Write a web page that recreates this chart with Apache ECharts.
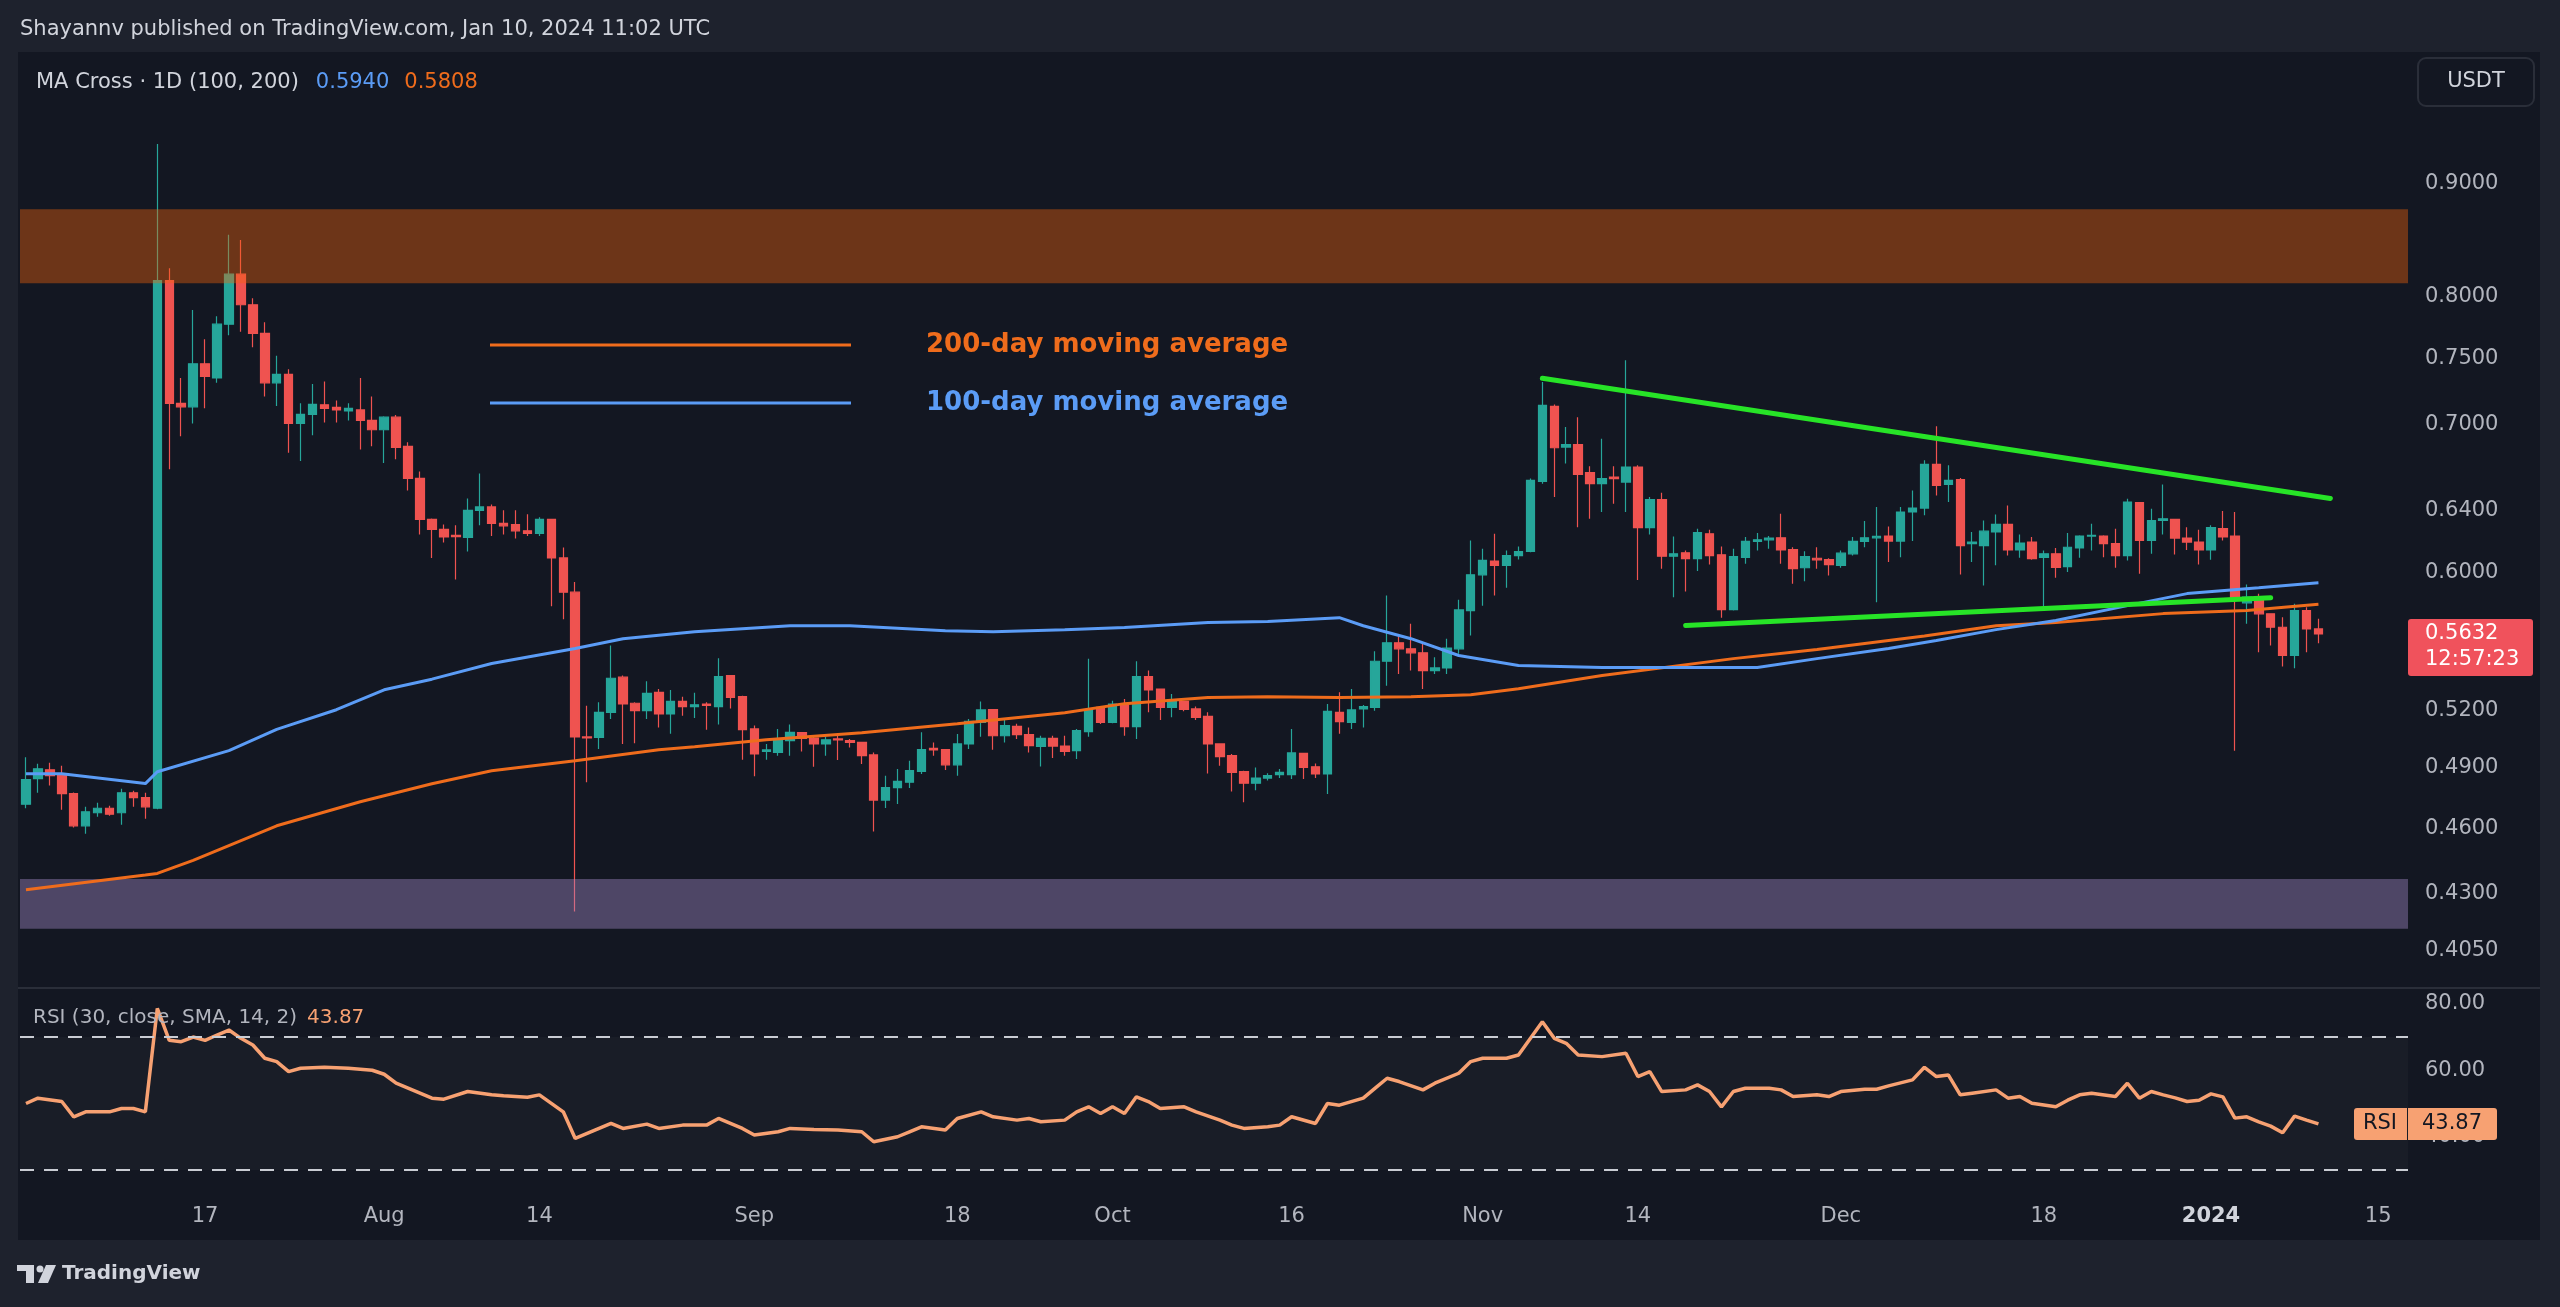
<!DOCTYPE html>
<html>
<head>
<meta charset="utf-8">
<title>XRPUSDT MA Cross</title>
<script src="https://cdn.jsdelivr.net/npm/echarts@6/dist/echarts.min.js"></script>
<style>
html,body{margin:0;padding:0;background:#1e222d;overflow:hidden;}
#chart{width:2560px;height:1307px;}
</style>
</head>
<body>
<div id="chart"></div>
<script>
// ---------------- data ----------------
const firstDay = '2023-07-02';
const dayCount = 200; // axis runs to 2024-01-17

const opens = [
.4718,.4845,.4890,.4865,.4770,.4613,.4676,.4698,.4676,.4774,
.4750,.4698,.8132,.7158,.7132,.7458,.7350,.7772,.8187,.7931,
.7699,.7312,.7377,.7010,.7076,.7147,.7128,.7102,.7109,.7032,
.6964,.7056,.6845,.6621,.6344,.6279,.6240,.6226,.6404,.6427,
.6318,.6310,.6269,.6253,.6344,.6095,.5882,.5060,.5057,.5191,
.5384,.5240,.5200,.5300,.5182,.5250,.5222,.5236,.5222,.5393,
.5277,.5102,.4984,.4979,.5040,.5083,.5054,.5023,.5049,.5040,
.5031,.4966,.4738,.4800,.4827,.4882,.5000,.4993,.4915,.5023,
.5137,.5205,.5066,.5116,.5072,.5010,.5052,.5012,.4988,.5088,
.5218,.5137,.5236,.5114,.5388,.5318,.5218,.5250,.5209,.5169,
.5023,.4962,.4881,.4822,.4848,.4865,.4865,.4974,.4905,.4869,
.5191,.5137,.5209,.5218,.5474,.5580,.5545,.5522,.5421,.5436,
.5545,.5770,.5989,.6075,.6048,.6110,.6136,.6600,.7136,.6840,
.6857,.6661,.6584,.6630,.6595,.6699,.6290,.6476,.6106,.6128,
.6090,.6250,.6115,.5776,.6099,.6201,.6211,.6224,.6148,.6033,
.6093,.6085,.6048,.6121,.6201,.6224,.6235,.6203,.6393,.6419,
.6718,.6579,.6612,.6186,.6174,.6262,.6311,.6146,.6196,.6099,
.6121,.6040,.6159,.6235,.6235,.6186,.6110,.6456,.6207,.6337,
.6344,.6222,.6196,.6146,.6283,.6235,.5817,.5831,.5751,.5671,
.5507,.5770,.5661];

const closes = [
.4840,.4895,.4860,.4770,.4613,.4681,.4698,.4669,.4774,.4750,
.4705,.8132,.7158,.7132,.7458,.7362,.7772,.8187,.7931,.7699,
.7312,.7377,.7010,.7076,.7150,.7121,.7109,.7121,.7032,.6964,
.7056,.6838,.6621,.6344,.6279,.6229,.6232,.6404,.6427,.6318,
.6302,.6269,.6253,.6344,.6095,.5882,.5060,.5055,.5191,.5378,
.5236,.5200,.5294,.5182,.5250,.5222,.5232,.5228,.5388,.5272,
.5098,.4971,.4992,.5040,.5084,.5052,.5023,.5045,.5044,.5031,
.4962,.4738,.4800,.4831,.4885,.4993,.4992,.4915,.5023,.5142,
.5204,.5066,.5120,.5072,.5014,.5052,.5012,.4984,.5093,.5204,
.5137,.5236,.5114,.5388,.5313,.5218,.5258,.5207,.5164,.5023,
.4957,.4877,.4822,.4848,.4860,.4877,.4976,.4902,.4869,.5196,
.5141,.5204,.5222,.5474,.5580,.5545,.5522,.5421,.5436,.5550,
.5774,.5989,.6079,.6048,.6110,.6136,.6607,.7143,.6835,.6857,
.6648,.6584,.6619,.6619,.6699,.6290,.6476,.6106,.6121,.6090,
.6257,.6110,.5776,.6104,.6201,.6211,.6222,.6146,.6027,.6104,
.6083,.6053,.6125,.6201,.6224,.6233,.6203,.6393,.6419,.6718,
.6572,.6607,.6174,.6196,.6267,.6311,.6146,.6190,.6090,.6121,
.6036,.6163,.6235,.6240,.6186,.6110,.6460,.6207,.6337,.6348,
.6222,.6196,.6146,.6290,.6229,.5841,.5851,.5751,.5671,.5507,
.5770,.5661,.5632];

const lows = [
.4698,.4774,.4810,.4691,.4605,.4575,.4657,.4662,.4618,.4705,
.4647,.4693,.6683,.6917,.7010,.7121,.7312,.7683,.7711,.7588,
.7210,.7139,.6799,.6742,.6924,.7017,.7017,.7032,.6823,.6845,
.6728,.6753,.6538,.6246,.6095,.6194,.5959,.6136,.6305,.6235,
.6246,.6220,.6235,.6235,.5797,.5718,.4220,.4827,.4997,.5155,
.5023,.5026,.5155,.5110,.5076,.5173,.5160,.5097,.5125,.5212,
.4941,.4857,.4941,.4962,.4962,.4984,.4905,.4962,.4940,.5005,
.4919,.4586,.4699,.4719,.4798,.4869,.4962,.4889,.4860,.4997,
.5061,.4993,.5031,.5049,.4979,.4906,.4950,.4962,.4945,.5061,
.5128,.5132,.5066,.5049,.5191,.5150,.5164,.5196,.5150,.4871,
.4910,.4781,.4727,.4787,.4835,.4848,.4843,.4843,.4848,.4768,
.5076,.5102,.5110,.5200,.5337,.5402,.5421,.5318,.5402,.5402,
.5517,.5622,.5800,.5861,.5909,.6085,.6131,.6584,.6493,.6724,
.6293,.6348,.6393,.6449,.6393,.5957,.6246,.6027,.5851,.5886,
.6012,.6053,.5727,.5770,.6058,.6142,.6153,.6058,.5933,.5949,
.6027,.5985,.6033,.6110,.6163,.5821,.6069,.6099,.6203,.6371,
.6504,.6460,.5991,.6069,.5922,.6048,.6110,.6096,.6083,.5794,
.5970,.6006,.6096,.6142,.6099,.6033,.6079,.5996,.6121,.6246,
.6117,.6146,.6054,.6083,.6207,.4988,.5691,.5525,.5564,.5444,
.5434,.5525,.5578];

const highs = [
.4954,.4921,.4926,.4910,.4775,.4705,.4725,.4710,.4794,.4784,
.4774,.9373,.8238,.7350,.7888,.7651,.7836,.8529,.8484,.7985,
.7788,.7521,.7416,.7158,.7304,.7323,.7180,.7158,.7350,.7210,
.7063,.7071,.6874,.6669,.6350,.6311,.6305,.6484,.6655,.6444,
.6404,.6404,.6379,.6358,.6344,.6162,.5944,.5227,.5245,.5564,
.5393,.5245,.5361,.5318,.5313,.5276,.5297,.5245,.5491,.5395,
.5281,.5120,.5023,.5102,.5125,.5084,.5066,.5061,.5071,.5049,
.5033,.4979,.4860,.4894,.4936,.5084,.5031,.4997,.5075,.5155,
.5250,.5209,.5150,.5129,.5110,.5066,.5066,.5066,.5102,.5488,
.5220,.5254,.5263,.5474,.5421,.5318,.5291,.5254,.5222,.5191,
.5025,.4971,.4885,.4902,.4872,.4894,.5102,.4976,.4922,.5236,
.5300,.5318,.5231,.5531,.5861,.5632,.5691,.5574,.5497,.5603,
.5835,.6207,.6153,.6250,.6142,.6168,.6619,.7318,.7150,.6984,
.7056,.6704,.6900,.6704,.7486,.6711,.6493,.6522,.6233,.6142,
.6283,.6276,.6168,.6153,.6229,.6255,.6235,.6382,.6163,.6138,
.6163,.6093,.6142,.6229,.6333,.6426,.6298,.6426,.6538,.6746,
.6990,.6711,.6623,.6261,.6337,.6377,.6437,.6246,.6229,.6142,
.6159,.6255,.6240,.6316,.6240,.6283,.6482,.6460,.6415,.6579,
.6348,.6293,.6276,.6305,.6399,.6393,.5929,.5872,.5753,.5730,
.5811,.5790,.5721];

// 100-day and 200-day moving averages (read at selected days)
const ma100Dates = ['2023-07-02','2023-07-05','2023-07-12','2023-07-13','2023-07-19','2023-07-23','2023-07-28','2023-08-01','2023-08-05','2023-08-10','2023-08-17','2023-08-21','2023-08-27','2023-09-04','2023-09-09','2023-09-17','2023-09-21','2023-09-27','2023-10-02','2023-10-09','2023-10-14','2023-10-20','2023-10-22','2023-10-26','2023-10-30','2023-11-04','2023-11-11','2023-11-24','2023-11-29','2023-12-05','2023-12-09','2023-12-14','2023-12-19','2023-12-25','2023-12-30','2024-01-05','2024-01-10'];
const ma100Values = [.4870,.4870,.4820,.4880,.4988,.5100,.5205,.5314,.5373,.5461,.5547,.5604,.5645,.5680,.5680,.5651,.5645,.5657,.5669,.5699,.5705,.5728,.5680,.5604,.5507,.5450,.5438,.5438,.5489,.5547,.5593,.5657,.5711,.5800,.5873,.5909,.5940];

const ma200Dates = ['2023-07-02','2023-07-12','2023-07-13','2023-07-16','2023-07-23','2023-07-30','2023-08-05','2023-08-10','2023-08-17','2023-08-24','2023-08-27','2023-09-02','2023-09-10','2023-09-18','2023-09-27','2023-10-02','2023-10-09','2023-10-14','2023-10-20','2023-10-26','2023-10-31','2023-11-04','2023-11-11','2023-11-22','2023-11-29','2023-12-08','2023-12-14','2023-12-19','2023-12-28','2024-01-04','2024-01-10'];
const ma200Values = [.4316,.4383,.4390,.4450,.4613,.4730,.4819,.4885,.4936,.4993,.5008,.5045,.5082,.5130,.5189,.5238,.5271,.5276,.5271,.5276,.5287,.5320,.5393,.5489,.5541,.5620,.5680,.5699,.5752,.5770,.5808];

// RSI(30), one entry per candle (null where not read)
const rsiValues = [
50.0,51.6,null,50.6,46,47.5,null,47.5,48.5,48.5,
47.5,78.6,69,68.6,70,69,70.6,72.1,69.6,67.6,
63.6,62.6,59.6,60.6,null,60.9,null,60.6,null,60,
58.8,56.1,null,53.1,51.6,51.3,null,53.6,null,52.6,
52.3,null,51.9,52.6,null,47.5,39.5,41,null,44,
42.5,null,43.8,42.5,null,43.5,43.5,43.5,45.5,null,
42.5,40.5,null,41.5,42.5,null,42.2,null,42,null,
41.5,38.5,null,40,41.5,43,null,42,45.5,null,
47.5,46,null,45,45.5,44.5,null,45,47.5,49,
47,49,47,52,50.6,48.5,null,49,47.5,null,
45,43.5,42.5,null,43,43.5,46,null,44,50,
49.5,null,51.6,54.6,57.6,56.6,null,54.1,56.1,null,
59.1,62.6,63.6,null,63.6,64.6,null,74.6,69.6,68.1,
64.6,null,64.1,null,65.1,58.1,59.6,53.6,null,54.1,
55.6,53.6,49,53.6,54.6,null,54.6,54.1,52.1,null,
52.6,52.1,53.6,null,54.3,54.3,55.3,null,57.1,60.9,
58.1,58.6,52.6,53.1,null,54.1,51.6,52.1,50.1,null,
49,51,52.6,53.1,null,52.1,56.1,51.6,53.6,52.6,
51.7,50.6,51,52.9,52,45.6,46,44.5,43.2,41.2,
46.2,45,43.87];

// trend lines (two anchor points each)
const upperTrendDates = ['2023-11-06','2024-01-11'];
const upperTrendValues = [0.7347, 0.6484];
const lowerTrendDates = ['2023-11-18','2024-01-06'];
const lowerTrendValues = [0.5681, 0.5848];

// zones
const supplyZone = [0.811, 0.876];
const demandZone = [0.4145, 0.4365];

// axis ticks
const priceTicks = [0.405, 0.43, 0.46, 0.49, 0.52, 0.60, 0.64, 0.70, 0.75, 0.80, 0.90];
const rsiTicks = [40, 60, 80];
const rsiBands = [70, 30];
const timeTickDates = ['2023-07-17','2023-08-01','2023-08-14','2023-09-01','2023-09-18','2023-10-01','2023-10-16','2023-11-01','2023-11-14','2023-12-01','2023-12-18','2024-01-01','2024-01-15'];
const timeTickTexts = ['17','Aug','14','Sep','18','Oct','16','Nov','14','Dec','18','2024','15'];

const lastPrice = 0.5632;
const lastPriceTimer = '12:57:23';
const lastRsi = 43.87;
const ma100Last = '0.5940';
const ma200Last = '0.5808';

// ---------------- build ----------------
const dates = [];
(function(){
  const t0 = Date.parse(firstDay + 'T00:00:00Z');
  for (let i = 0; i < dayCount; i++) dates.push(new Date(t0 + i * 86400000).toISOString().slice(0, 10));
})();
const candleData = opens.map((o, i) => [o, closes[i], lows[i], highs[i]]);
const pairs = (ds, vs) => ds.map((d, i) => [d, vs[i]]);

const FONT = '"DejaVu Sans", sans-serif';
const UP = '#26a69a', DOWN = '#ef5350';
const BLUE = '#5b9cf6', ORANGE = '#ef6c1c', GREEN = '#27e427', RSIC = '#f7a172';
const AXISC = '#b2b5be', TEXTC = '#d1d4dc';

const chart = echarts.init(document.getElementById('chart'), null, {renderer: 'canvas'});

const option = {
  animation: false,
  backgroundColor: 'transparent',
  textStyle: {fontFamily: FONT},
  grid: [
    {left: 20, right: 152, top: 55, height: 933, outerBoundsMode: 'none'},
    {left: 20, right: 152, top: 988, height: 207, outerBoundsMode: 'none'}
  ],
  xAxis: [
    {type: 'category', gridIndex: 0, data: dates, boundaryGap: true,
     axisLine: {show: false}, axisTick: {show: false}, axisLabel: {show: false}, splitLine: {show: false}},
    {type: 'category', gridIndex: 1, data: dates, boundaryGap: true,
     axisLine: {show: false}, axisTick: {show: false}, splitLine: {show: false},
     axisLabel: {
       show: true, hideOverlap: false,
       interval: (idx, val) => timeTickDates.indexOf(val) >= 0,
       formatter: (val) => {
         const k = timeTickDates.indexOf(val);
         if (k < 0) return '';
         const t = timeTickTexts[k];
         return /^\d{4}$/.test(t) ? '{y|' + t + '}' : t;
       },
       color: AXISC, fontSize: 21, fontFamily: FONT, margin: 22, verticalAlign: 'middle',
       rich: {y: {fontWeight: 'bold', color: TEXTC, fontSize: 21, fontFamily: FONT}}
     }}
  ],
  yAxis: [
    {type: 'log', logBase: 10, gridIndex: 0, position: 'right', min: 0.3897, max: 1.0283,
     axisLine: {show: false}, axisTick: {show: false}, splitLine: {show: false},
     axisLabel: {customValues: priceTicks, formatter: (v) => Number(v).toFixed(4),
       color: AXISC, fontSize: 21, fontFamily: FONT, margin: 17, align: 'left', verticalAlign: 'middle'}},
    {type: 'value', gridIndex: 1, position: 'right', min: 22.48, max: 84.74,
     axisLine: {show: false}, axisTick: {show: false}, splitLine: {show: false},
     axisLabel: {customValues: rsiTicks, formatter: (v) => Number(v).toFixed(2),
       color: AXISC, fontSize: 21, fontFamily: FONT, margin: 17, align: 'left', verticalAlign: 'middle'}}
  ],
  series: [
    {
      name: 'XRPUSDT', type: 'candlestick', xAxisIndex: 0, yAxisIndex: 0, z: 2,
      data: candleData, barWidth: 9,
      itemStyle: {color: UP, color0: DOWN, borderColor: UP, borderColor0: DOWN, borderWidth: 1.2},
      markArea: {
        silent: true, z: 3,
        label: {show: false},
        data: [
          [{yAxis: supplyZone[1], itemStyle: {color: 'rgba(245,100,10,0.40)'}}, {yAxis: supplyZone[0]}],
          [{yAxis: demandZone[1], itemStyle: {color: 'rgba(168,142,205,0.40)'}}, {yAxis: demandZone[0]}]
        ]
      }
    },
    {name: 'MA200', type: 'line', xAxisIndex: 0, yAxisIndex: 0, z: 4, data: pairs(ma200Dates, ma200Values),
     showSymbol: false, symbol: 'none', lineStyle: {color: ORANGE, width: 3}, silent: true},
    {name: 'MA100', type: 'line', xAxisIndex: 0, yAxisIndex: 0, z: 4, data: pairs(ma100Dates, ma100Values),
     showSymbol: false, symbol: 'none', lineStyle: {color: BLUE, width: 3}, silent: true},
    {name: 'Upper trend', type: 'line', xAxisIndex: 0, yAxisIndex: 0, z: 5, data: pairs(upperTrendDates, upperTrendValues),
     showSymbol: false, symbol: 'none', lineStyle: {color: GREEN, width: 5, cap: 'round'}, silent: true},
    {name: 'Lower trend', type: 'line', xAxisIndex: 0, yAxisIndex: 0, z: 5, data: pairs(lowerTrendDates, lowerTrendValues),
     showSymbol: false, symbol: 'none', lineStyle: {color: GREEN, width: 5, cap: 'round'}, silent: true},
    {
      name: 'RSI', type: 'line', xAxisIndex: 1, yAxisIndex: 1, z: 4,
      data: rsiValues, connectNulls: true, showSymbol: false, symbol: 'none', silent: true,
      lineStyle: {color: RSIC, width: 3.5},
      markArea: {silent: true, z: 1, label: {show: false},
        data: [[{yAxis: rsiBands[0], itemStyle: {color: 'rgba(190,195,210,0.035)'}}, {yAxis: rsiBands[1]}]]},
      markLine: {silent: true, symbol: ['none', 'none'], label: {show: false},
        lineStyle: {type: [14, 10], color: '#c9ccd3', width: 2},
        data: rsiBands.map(v => ({yAxis: v}))}
    }
  ]
};
chart.setOption(option);

// ---------------- annotations ----------------
const pPrice = chart.convertToPixel({yAxisIndex: 0}, lastPrice);
const pRsi = chart.convertToPixel({yAxisIndex: 1}, lastRsi);

function txt(id, text, x, y, st) {
  return {type: 'text', id: id, x: x, y: y, z: 100,
    style: Object.assign({text: text, fill: TEXTC, fontSize: 21, fontFamily: FONT, align: 'left', verticalAlign: 'middle'}, st || {})};
}

const elements = [
  {type: 'rect', id: 'panel', z: -10, shape: {x: 18, y: 52, width: 2522, height: 1188}, style: {fill: '#131722'}},
  {type: 'line', id: 'sep', z: 50, shape: {x1: 18, y1: 988, x2: 2540, y2: 988}, style: {stroke: '#2a2e39', lineWidth: 2}},
  txt('hdr', 'Shayannv published on TradingView.com, Jan 10, 2024 11:02 UTC', 20, 30, {fontSize: 21}),
  txt('ma', '{a|MA Cross · 1D (100, 200)}{b|' + ma100Last + '}{c|' + ma200Last + '}', 36, 83, {
    rich: {
      a: {fill: TEXTC, fontSize: 21, fontFamily: FONT, padding: [0, 17, 0, 0]},
      b: {fill: BLUE, fontSize: 21, fontFamily: FONT, padding: [0, 15, 0, 0]},
      c: {fill: ORANGE, fontSize: 21, fontFamily: FONT}
    }}),
  {type: 'rect', id: 'usdtBox', z: 100, shape: {x: 2418, y: 58, width: 116, height: 48, r: 8},
   style: {fill: 'none', stroke: '#2a2e39', lineWidth: 2}},
  txt('usdt', 'USDT', 2476, 82, {align: 'center'}),
  // drawn legend
  {type: 'line', id: 'lg1', z: 100, shape: {x1: 490, y1: 345, x2: 851, y2: 345}, style: {stroke: ORANGE, lineWidth: 3}},
  txt('lg1t', '200-day moving average', 926, 345, {fill: ORANGE, fontSize: 26, fontWeight: 'bold'}),
  {type: 'line', id: 'lg2', z: 100, shape: {x1: 490, y1: 403, x2: 851, y2: 403}, style: {stroke: BLUE, lineWidth: 3}},
  txt('lg2t', '100-day moving average', 926, 403, {fill: BLUE, fontSize: 26, fontWeight: 'bold'}),
  // RSI pane header
  txt('rsiHdr', '{a|RSI (30, close, SMA, 14, 2)}{b|' + lastRsi.toFixed(2) + '}', 33, 1018, {
    rich: {
      a: {fill: AXISC, fontSize: 20, fontFamily: FONT, padding: [0, 10, 0, 0]},
      b: {fill: RSIC, fontSize: 20, fontFamily: FONT}
    }}),
  // last price label
  {type: 'rect', id: 'pxBox', z: 100, shape: {x: 2408, y: pPrice - 15, width: 125, height: 57, r: 3}, style: {fill: '#f0525c'}},
  txt('pxT1', lastPrice.toFixed(4), 2425, pPrice, {fill: '#ffffff'}),
  txt('pxT2', lastPriceTimer, 2425, pPrice + 26, {fill: '#ffffff'}),
  // RSI last value label
  {type: 'rect', id: 'rsiBoxA', z: 100, shape: {x: 2354, y: pRsi - 16, width: 53, height: 32, r: [3, 0, 0, 3]}, style: {fill: RSIC}},
  {type: 'rect', id: 'rsiBoxB', z: 100, shape: {x: 2408, y: pRsi - 16, width: 89, height: 32, r: [0, 3, 3, 0]}, style: {fill: RSIC}},
  txt('rsiBoxAT', 'RSI', 2380, pRsi, {fill: '#131722', align: 'center'}),
  txt('rsiBoxBT', lastRsi.toFixed(2), 2452, pRsi, {fill: '#131722', align: 'center'}),
  // TradingView logo
  {type: 'rect', id: 'lgA', z: 100, shape: {x: 17, y: 1265, width: 17, height: 6}, style: {fill: TEXTC}},
  {type: 'rect', id: 'lgB', z: 100, shape: {x: 26, y: 1265, width: 8, height: 18}, style: {fill: TEXTC}},
  {type: 'circle', id: 'lgC', z: 100, shape: {cx: 40, cy: 1269, r: 3.5}, style: {fill: TEXTC}},
  {type: 'polygon', id: 'lgD', z: 100, shape: {points: [[46, 1265], [56, 1265], [48, 1283], [38, 1283]]}, style: {fill: TEXTC}},
  txt('lgT', 'TradingView', 62, 1274, {fontSize: 20, fontWeight: 'bold'})
];
chart.setOption({graphic: {elements: elements}});
</script>
</body>
</html>
